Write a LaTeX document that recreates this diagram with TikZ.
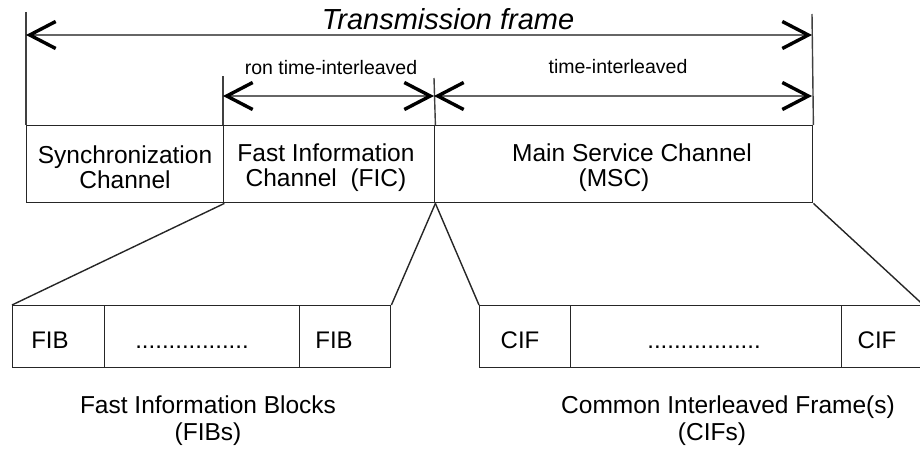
\documentclass[tikz,border=0pt]{standalone}
\usepackage{fontspec}
\setmainfont{Liberation Sans}
\usetikzlibrary{arrows.meta}
\tikzset{
  cell/.style={draw=black!85, line width=1.4pt, anchor=north west, inner sep=0pt},
  celltext/.style={font=\fontsize{24}{25}\selectfont, anchor=base, inner sep=0pt},
  boxtext/.style={font=\fontsize{24.5}{25}\selectfont, align=center, inner sep=0pt},
  barb/.tip={Straight Barb[length=26pt,width=27pt,line width=3.4pt,color=black]},
  dim/.style={draw=black!60, line width=2.4pt, barb-barb},
  tick/.style={draw=black!75, line width=1.4pt},
  fan/.style={draw=black!85, line width=1.4pt},
  small/.style={font=\fontsize{19.5}{20}\selectfont, inner sep=0pt}
}
\begin{document}
\begin{tikzpicture}[x=1pt,y=-1pt]
\useasboundingbox (0,0) rectangle (920,452);
\clip (0,0) rectangle (920,452);
% top level boxes
\node[cell, minimum width=197pt, minimum height=77pt] (sync) at (26,125) {};
\node[cell, minimum width=211pt, minimum height=77pt] (fic) at (223,125) {};
\node[cell, minimum width=378pt, minimum height=77pt] (msc) at (434,125) {};
\node[boxtext] (synct) at (125,167.5) {Synchronization\\Channel};
\node[boxtext] (fict) at (326,167.5) {Fast Information\\Channel\ \ (FIC)};
\node[boxtext] (msct) at (632,167.5) {Main Service Channel\\(MSC)\hspace*{36pt}};
% dimension ticks
\coordinate (t1a) at (26,12);
\coordinate (t2a) at (812,14);
\coordinate (t3a) at (223,76);
\coordinate (t4a) at (434,78);
\draw[tick] (t1a) -- (sync.north west);
\draw[tick] (t2a) -- (msc.north east);
\draw[tick] (t3a) -- (fic.north west);
\draw[tick] (t4a) -- (fic.north east);
% dimension arrows
\coordinate (a1) at (26,35);
\coordinate (a2) at (812,35);
\coordinate (b1) at (223,96);
\coordinate (b2) at (434,96);
\coordinate (b3) at (812,96);
\draw[dim] (a1) -- (a2);
\draw[dim] (b1) -- (b2);
\draw[dim] (b2) -- (b3);
\node[font=\fontsize{29}{30}\selectfont\itshape, inner sep=0pt] (tf) at (448,19) {Transmission frame};
\node[small] (nti) at (331,68) {ron time-interleaved};
\node[small] (ti) at (618,67) {time-interleaved};
% lower boxes
\node[cell, minimum width=92pt, minimum height=62pt] (fib1) at (12,305) {};
\node[cell, minimum width=195pt, minimum height=62pt] (fibd) at (104,305) {};
\node[cell, minimum width=91pt, minimum height=62pt] (fib2) at (299,305) {};
\node[cell, minimum width=91pt, minimum height=62pt] (cif1) at (479,305) {};
\node[cell, minimum width=271pt, minimum height=62pt] (cifd) at (570,305) {};
\node[cell, minimum width=81pt, minimum height=62pt] (cif2) at (841,305) {};
\node[celltext] (fib1t) at (50,348) {FIB};
\node[celltext] (fibdt) at (192,348) {.................};
\node[celltext] (fib2t) at (334,348) {FIB};
\node[celltext] (cif1t) at (520,348) {CIF};
\node[celltext] (cifdt) at (704,348) {.................};
\node[celltext] (cif2t) at (877,348) {CIF};
% fan lines
\draw[fan] (sync.south east) -- (fib1.north west);
\draw[fan] (fic.south east) -- (fib2.north east);
\draw[fan] (fic.south east) -- (cif1.north west);
\draw[fan] (msc.south east) -- (cif2.north east);
% captions
\node[boxtext, font=\fontsize{24.5}{27}\selectfont] (fibl) at (208,421) {Fast Information Blocks\\(FIBs)};
\node[boxtext, font=\fontsize{24.5}{27}\selectfont] (cifl) at (728,421) {Common Interleaved Frame(s)\\(CIFs)\hspace*{32pt}};
\end{tikzpicture}
\end{document}
